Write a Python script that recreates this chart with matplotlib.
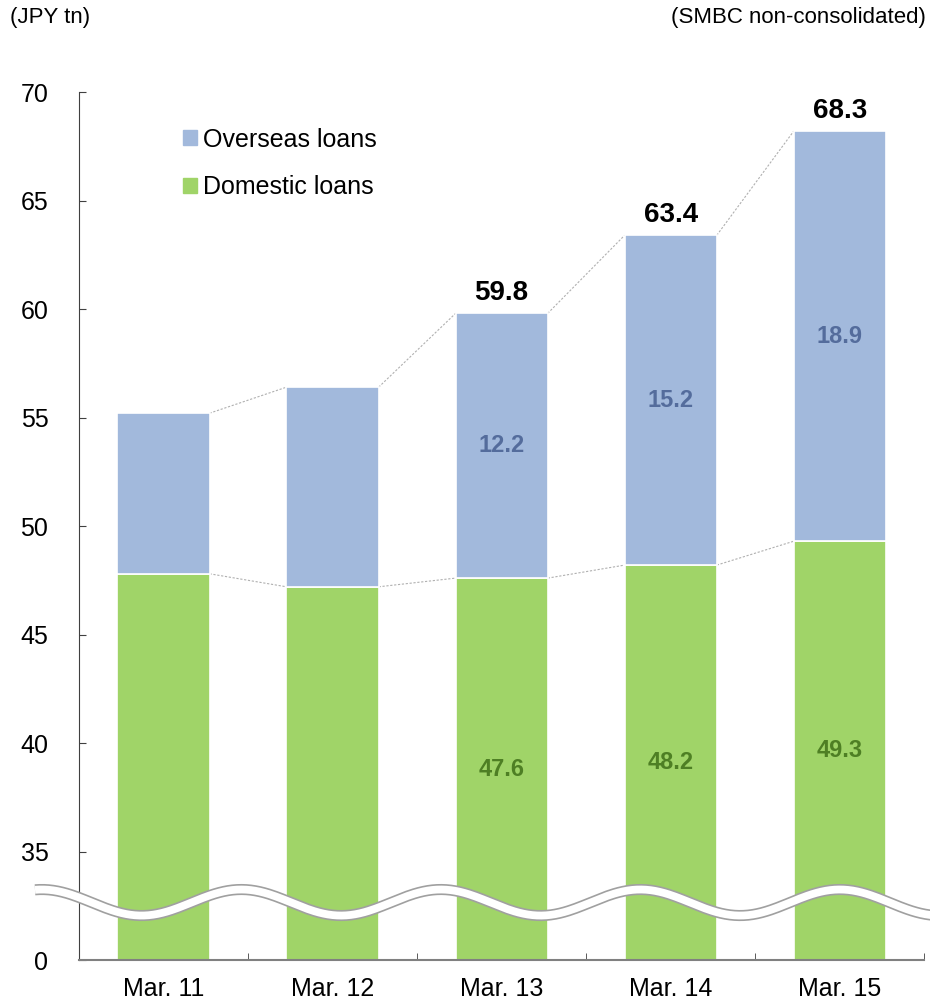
import numpy as np
import matplotlib.pyplot as plt
from matplotlib.patches import Patch

plt.rcParams['font.family'] = ['Liberation Sans', 'DejaVu Sans']

# data (JPY tn)
periods = ["Mar. 11", "Mar. 12", "Mar. 13", "Mar. 14", "Mar. 15"]
domestic = [47.8, 47.2, 47.6, 48.2, 49.3]
overseas = [7.4, 9.2, 12.2, 15.2, 18.9]
domestic_labels = ["", "", "47.6", "48.2", "49.3"]
overseas_labels = ["", "", "12.2", "15.2", "18.9"]
total_labels = ["", "", "59.8", "63.4", "68.3"]

yticks = [30, 35, 40, 45, 50, 55, 60, 65, 70]
ytick_labels = ["0", "35", "40", "45", "50", "55", "60", "65", "70"]

BASE = 30  # axis is broken: bottom of the plot stands for 0
C_DOM = "#A0D468"
C_OVS = "#A2B9DC"
C_DOM_TXT = "#4E7F24"
C_OVS_TXT = "#546C9C"

fig = plt.figure(figsize=(9.3, 10.06), dpi=100)
ax = fig.add_axes([0.0849, 0.0457, 0.909, 0.8628])

x = np.arange(len(periods))
w = 0.545
dom_h = [d - BASE for d in domestic]
ax.bar(x, dom_h, w, bottom=BASE, color=C_DOM, edgecolor="white", linewidth=1.2,
       label="Domestic loans", zorder=2)
ax.bar(x, overseas, w, bottom=domestic, color=C_OVS, edgecolor="white", linewidth=1.2,
       label="Overseas loans", zorder=2)

totals = [d + o for d, o in zip(domestic, overseas)]

# connector lines between bars
for i in range(len(x) - 1):
    for lv in (domestic, totals):
        ax.plot([x[i] + w / 2, x[i + 1] - w / 2], [lv[i], lv[i + 1]],
                color="#b0b0b0", lw=0.8, ls=(0, (2, 1.5)), zorder=1)

for i in range(len(x)):
    if domestic_labels[i]:
        ax.text(x[i], (BASE + domestic[i]) / 2, domestic_labels[i], ha="center", va="center",
                fontsize=17, fontweight="bold", color=C_DOM_TXT, zorder=3)
    if overseas_labels[i]:
        ax.text(x[i], domestic[i] + overseas[i] / 2, overseas_labels[i], ha="center", va="center",
                fontsize=17, fontweight="bold", color=C_OVS_TXT, zorder=3)
    if total_labels[i]:
        ax.text(x[i], totals[i] + 0.35, total_labels[i], ha="center", va="bottom",
                fontsize=20, fontweight="bold", color="black", zorder=3)

# wavy break mark
wx = np.linspace(-0.76, 4.6, 400)
wy = 32.65 + 0.6 * np.sin(2 * np.pi * (wx - 0.46) / 1.18 + np.pi / 2)
ax.plot(wx, wy, color="#a0a0a0", lw=8.0, clip_on=False, zorder=4, solid_capstyle="butt")
ax.plot(wx, wy, color="white", lw=5.6, clip_on=False, zorder=5, solid_capstyle="butt")

ax.set_xlim(-0.5, 4.5)
ax.set_ylim(30, 70)
ax.set_xticks(x)
ax.set_xticklabels(periods, fontsize=18)
ax.set_xticks(np.arange(-0.5, 4.6, 1), minor=True)
ax.tick_params(axis="x", which="major", length=0, pad=12)
ax.tick_params(axis="x", which="minor", direction="in", length=5, color="#404040")
ax.set_yticks(yticks)
ax.set_yticklabels(ytick_labels, fontsize=18)
ax.tick_params(axis="y", direction="in", length=5, pad=22, color="#404040")

for s in ("top", "right"):
    ax.spines[s].set_visible(False)
ax.spines["left"].set_color("#404040")
ax.spines["bottom"].set_color("#808080")
ax.spines["bottom"].set_linewidth(1.5)

handles = [Patch(color=C_OVS), Patch(color=C_DOM)]
ax.legend(handles, ["Overseas loans", "Domestic loans"], loc="upper left",
          bbox_to_anchor=(0.097, 0.985), frameon=False, fontsize=18,
          handlelength=0.55, handleheight=0.55, handletextpad=0.25, labelspacing=0.95)

fig.text(10 / 930, 1 - 18 / 1006, "(JPY tn)", fontsize=16, ha="left", va="center")
fig.text(926 / 930, 1 - 18 / 1006, "(SMBC non-consolidated)", fontsize=16, ha="right", va="center")

fig.savefig("out.png", dpi=100)
